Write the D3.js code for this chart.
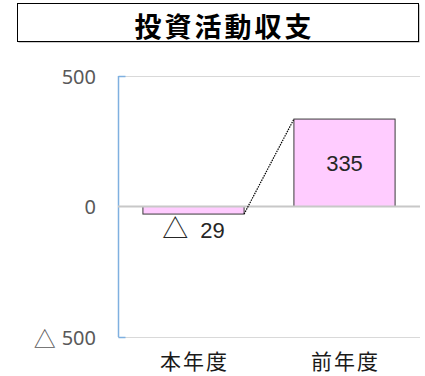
<!DOCTYPE html>
<html>
<head>
<meta charset="utf-8">
<script src="https://cdn.jsdelivr.net/npm/d3@7"></script>
<style>
  html, body { margin: 0; padding: 0; background: #fff; }
  svg { display: block; }
</style>
</head>
<body>
<svg id="chart" width="425" height="376"></svg>
<script>
// Investment cash flow: current year vs previous year
const title = "投資活動収支";
const categories = ["本年度", "前年度"];
const values = [-29, 335];
const yTicks = [-500, 0, 500];

const svg = d3.select("#chart");
const plot = { left: 118, right: 420, top: 76, bottom: 337 };

// Title box with a soft shadow
svg.append("rect")
  .attr("x", 18.5).attr("y", 4.5).attr("width", 401).attr("height", 38)
  .attr("fill", "#9a9a9a");
svg.append("rect")
  .attr("x", 17.5).attr("y", 3.5).attr("width", 401).attr("height", 38)
  .attr("fill", "#fff").attr("stroke", "#000").attr("stroke-width", 1);
svg.append("text")
  .attr("x", 224.5).attr("y", 25)
  .attr("text-anchor", "middle").attr("dominant-baseline", "central")
  .attr("font-family", "'Noto Sans CJK JP', sans-serif")
  .attr("font-weight", "bold").attr("font-size", 27)
  .attr("letter-spacing", 3)
  .attr("fill", "#000")
  .text(title);

const x = d3.scaleBand()
  .domain(categories)
  .range([plot.left, plot.right])
  .paddingInner(0.33).paddingOuter(0.165);

const y = d3.scaleLinear()
  .domain([-500, 500])
  .range([plot.bottom, plot.top]);

// Gridlines
svg.append("g").selectAll("line")
  .data(yTicks.filter(t => t !== 0))
  .join("line")
  .attr("x1", plot.left).attr("x2", plot.right)
  .attr("y1", d => Math.round(y(d)) + 0.5).attr("y2", d => Math.round(y(d)) + 0.5)
  .attr("stroke", "#d9d9d9").attr("stroke-width", 1);

// Y axis (blue) with short inward ticks at the ends
const yAxis = d3.axisRight(y).tickValues(yTicks).tickSize(7).tickFormat("");
const yg = svg.append("g")
  .attr("transform", `translate(${plot.left + 0.5},0)`)
  .call(yAxis);
yg.select(".domain").attr("stroke", "#7fb0e0").attr("stroke-width", 1.5)
  .attr("d", `M0,${y(500)}V${y(-500)}`);
yg.selectAll(".tick line").attr("stroke", "#7fb0e0").attr("stroke-width", 1.5);
yg.selectAll(".tick").filter(d => d === 0).remove();

// Y tick labels (negative values shown with △)
const yl = svg.append("g").selectAll("text")
  .data(yTicks)
  .join("text")
  .attr("x", 96).attr("y", d => y(d))
  .attr("text-anchor", "end").attr("dominant-baseline", "central")
  .attr("font-family", "'Noto Sans', sans-serif")
  .attr("font-size", 20)
  .attr("fill", "#595959");
yl.each(function (d) {
  const t = d3.select(this);
  if (d < 0) {
    t.append("tspan").attr("font-family", "'Noto Sans CJK JP', sans-serif")
      .attr("font-size", 22).text("△");
    t.append("tspan").attr("dx", 6).text(Math.abs(d));
  } else {
    t.text(d);
  }
});

// Bars
svg.append("g").selectAll("rect")
  .data(values)
  .join("rect")
  .attr("x", (d, i) => x(categories[i]))
  .attr("width", x.bandwidth())
  .attr("y", d => y(Math.max(0, d)))
  .attr("height", d => Math.abs(y(d) - y(0)))
  .attr("fill", "#ffccff")
  .attr("stroke", "#3a3a3a").attr("stroke-width", 1);

// Zero line
svg.append("line")
  .attr("x1", plot.left).attr("x2", plot.right)
  .attr("y1", y(0)).attr("y2", y(0))
  .attr("stroke", "#c8c8c8").attr("stroke-width", 2);

// Dotted connector from current-year bar end to previous-year bar top
svg.append("line")
  .attr("x1", x(categories[0]) + x.bandwidth()).attr("y1", y(values[0]))
  .attr("x2", x(categories[1])).attr("y2", y(values[1]))
  .attr("stroke", "#000").attr("stroke-width", 1.2)
  .attr("stroke-dasharray", "1.5,1");

// Value labels
const lab = svg.append("g")
  .attr("font-family", "'Liberation Sans', Arial, sans-serif")
  .attr("font-size", 22)
  .attr("fill", "#262626");

values.forEach((v, i) => {
  const cx = x(categories[i]) + x.bandwidth() / 2;
  const t = lab.append("text").attr("text-anchor", "middle");
  if (v >= 0) {
    t.attr("x", cx).attr("y", (y(v) + y(0)) / 2).attr("dy", "0.36em").text(v);
  } else {
    t.attr("x", cx).attr("y", y(v) + 24);
    t.append("tspan").attr("font-family", "'Noto Sans CJK JP', sans-serif")
      .attr("font-size", 26).text("△");
    t.append("tspan").attr("dx", 12).text(Math.abs(v));
  }
});

// Category labels
svg.append("g").selectAll("text")
  .data(categories)
  .join("text")
  .attr("x", d => x(d) + x.bandwidth() / 2 + 1)
  .attr("y", 360)
  .attr("text-anchor", "middle").attr("dominant-baseline", "central")
  .attr("font-family", "'Noto Sans CJK JP', sans-serif")
  .attr("font-size", 21)
  .attr("letter-spacing", 2)
  .attr("fill", "#1a1a1a")
  .text(d => d);
</script>
</body>
</html>
